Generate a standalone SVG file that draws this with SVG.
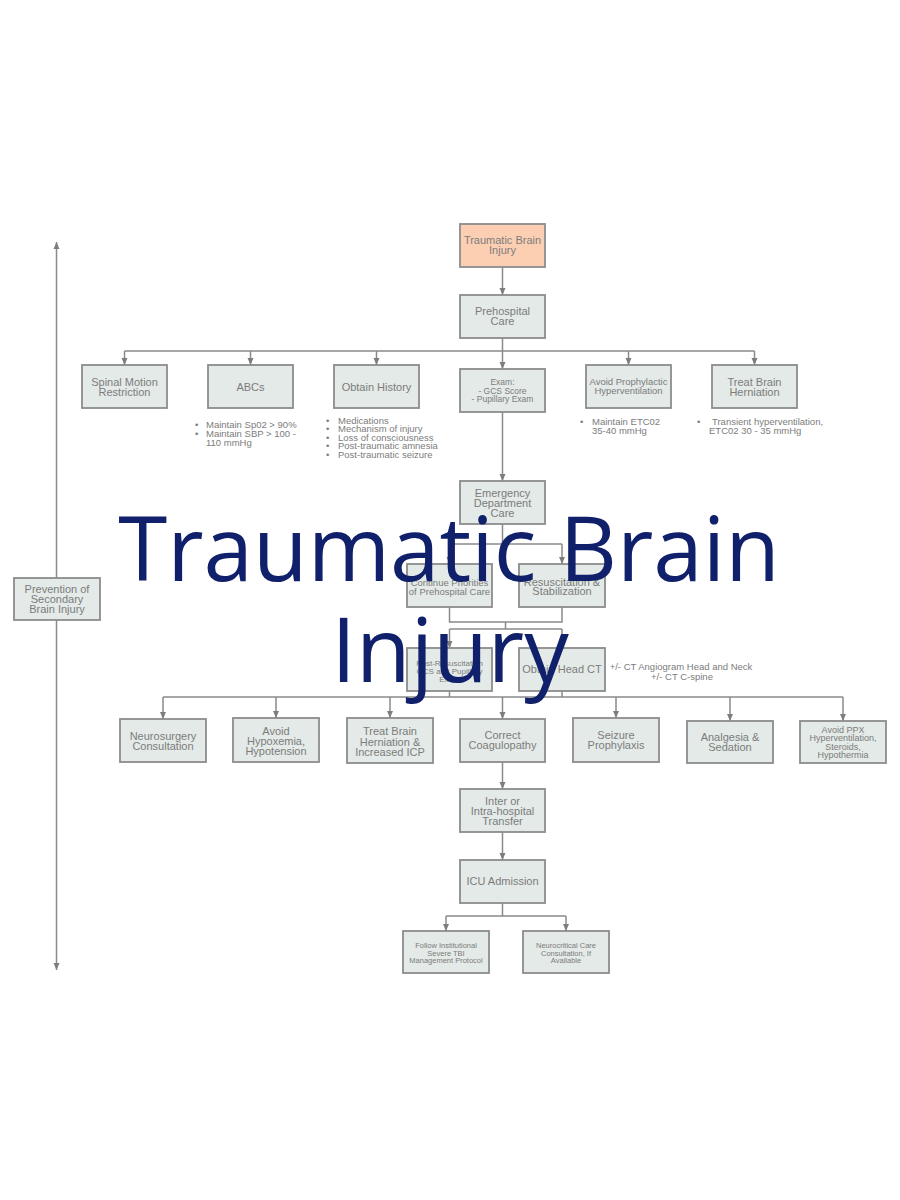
<svg xmlns="http://www.w3.org/2000/svg" width="900" height="1200" viewBox="0 0 900 1200">
<defs>
<marker id="ah" markerUnits="userSpaceOnUse" markerWidth="8" markerHeight="8" refX="7" refY="4" orient="auto">
<path d="M0,1 L7,4 L0,7 Z" fill="#7d7d7d"/>
</marker>
<marker id="ahs" markerUnits="userSpaceOnUse" markerWidth="8" markerHeight="8" refX="0" refY="4" orient="auto">
<path d="M7,1 L0,4 L7,7 Z" fill="#7d7d7d"/>
</marker>
<style>
.box{fill:#e3eae7;stroke:#8c8c8c;stroke-width:1.8}
.root{fill:#fccfb3;stroke:#8c8c8c;stroke-width:1.8}
.t{font-family:"Liberation Sans",Arial,sans-serif;font-size:11px;fill:#7c7c7c;text-anchor:middle}
.s{font-family:"Liberation Sans",Arial,sans-serif;font-size:9.5px;fill:#7c7c7c}
.c{fill:none;stroke:#8a8a8a;stroke-width:1.5}
.title{font-family:"Open Sans","Noto Sans",sans-serif;font-size:89px;fill:#10206b;text-anchor:middle}
</style>
</defs>
<rect width="900" height="1200" fill="#ffffff"/>

<g id="connectors">
<line class="c" x1="56.5" y1="242" x2="56.5" y2="970" marker-start="url(#ahs)" marker-end="url(#ah)"/>
<path class="c" d="M502.5,267 V295" marker-end="url(#ah)"/>
<path class="c" d="M502.5,338 V351 M124.5,351 H754.5"/>
<path class="c" d="M124.5,351 V365" marker-end="url(#ah)"/>
<path class="c" d="M250.5,351 V365" marker-end="url(#ah)"/>
<path class="c" d="M376.5,351 V365" marker-end="url(#ah)"/>
<path class="c" d="M502.5,351 V369" marker-end="url(#ah)"/>
<path class="c" d="M628.5,351 V365" marker-end="url(#ah)"/>
<path class="c" d="M754.5,351 V365" marker-end="url(#ah)"/>
<path class="c" d="M502.5,412 V481" marker-end="url(#ah)"/>
<path class="c" d="M502.5,524 V544 M449.5,544 H562"/>
<path class="c" d="M449.5,544 V564" marker-end="url(#ah)"/>
<path class="c" d="M562,544 V564" marker-end="url(#ah)"/>
<path class="c" d="M449.5,607 V622 H562 V607 M505.5,622 V629 M449.5,629 H562"/>
<path class="c" d="M449.5,629 V648" marker-end="url(#ah)"/>
<path class="c" d="M562,629 V648" marker-end="url(#ah)"/>
<path class="c" d="M449.5,691 V697 M562,691 V697 M163,697 H843"/>
<path class="c" d="M163,697 V719" marker-end="url(#ah)"/>
<path class="c" d="M276,697 V718" marker-end="url(#ah)"/>
<path class="c" d="M390,697 V718" marker-end="url(#ah)"/>
<path class="c" d="M502.5,697 V719" marker-end="url(#ah)"/>
<path class="c" d="M616,697 V718" marker-end="url(#ah)"/>
<path class="c" d="M730,697 V721" marker-end="url(#ah)"/>
<path class="c" d="M843,697 V721" marker-end="url(#ah)"/>
<path class="c" d="M502.5,762 V789" marker-end="url(#ah)"/>
<path class="c" d="M502.5,832 V860" marker-end="url(#ah)"/>
<path class="c" d="M502.5,903 V916 M446,916 H566"/>
<path class="c" d="M446,916 V931" marker-end="url(#ah)"/>
<path class="c" d="M566,916 V931" marker-end="url(#ah)"/>
</g>

<g id="n-tbi"><rect class="root" x="460" y="224" width="85" height="43"/><text class="t" x="502.5" y="244">Traumatic Brain</text><text class="t" x="502.5" y="254">Injury</text></g>
<g id="n-prehospital"><rect class="box" x="460" y="295" width="85" height="43"/><text class="t" x="502.5" y="315">Prehospital</text><text class="t" x="502.5" y="325">Care</text></g>

<g id="n-spinal"><rect class="box" x="82" y="365" width="85" height="43"/><text class="t" x="124.5" y="385.5">Spinal Motion</text><text class="t" x="124.5" y="395.5">Restriction</text></g>
<g id="n-abcs"><rect class="box" x="208" y="365" width="85" height="43"/><text class="t" x="250.5" y="390.5">ABCs</text>
<text class="s" x="195" y="427.5">•</text><text class="s" x="206" y="427.5">Maintain Sp02 &gt; 90%</text>
<text class="s" x="195" y="436.5">•</text><text class="s" x="206" y="436.5">Maintain SBP &gt; 100 -</text>
<text class="s" x="206" y="445.5">110 mmHg</text></g>
<g id="n-history"><rect class="box" x="334" y="365" width="85" height="43"/><text class="t" x="376.5" y="390.5">Obtain History</text>
<text class="s" x="326" y="423.5">•</text><text class="s" x="338" y="423.5">Medications</text>
<text class="s" x="326" y="432">•</text><text class="s" x="338" y="432">Mechanism of injury</text>
<text class="s" x="326" y="440.5">•</text><text class="s" x="338" y="440.5">Loss of consciousness</text>
<text class="s" x="326" y="449">•</text><text class="s" x="338" y="449">Post-traumatic amnesia</text>
<text class="s" x="326" y="458">•</text><text class="s" x="338" y="458">Post-traumatic seizure</text></g>
<g id="n-exam"><rect class="box" x="460" y="369" width="85" height="43"/><text class="t" x="502.5" y="385" style="font-size:8.5px">Exam:</text><text class="t" x="502.5" y="393.5" style="font-size:8.5px">- GCS Score</text><text class="t" x="502.5" y="402" style="font-size:8.5px">- Pupillary Exam</text></g>
<g id="n-avoid-hv"><rect class="box" x="586" y="365" width="85" height="43"/><text class="t" x="628.5" y="385" style="font-size:9.5px">Avoid Prophylactic</text><text class="t" x="628.5" y="394" style="font-size:9.5px">Hyperventilation</text>
<text class="s" x="580" y="425">•</text><text class="s" x="592" y="425">Maintain ETC02</text>
<text class="s" x="592" y="434">35-40 mmHg</text></g>
<g id="n-herniation"><rect class="box" x="712" y="365" width="85" height="43"/><text class="t" x="754.5" y="385.5">Treat Brain</text><text class="t" x="754.5" y="395.5">Herniation</text>
<text class="s" x="697" y="425">•</text><text class="s" x="712" y="425">Transient hyperventilation,</text>
<text class="s" x="709" y="434">ETC02 30 - 35 mmHg</text></g>

<g id="n-ed"><rect class="box" x="460" y="481" width="85" height="43"/><text class="t" x="502.5" y="497">Emergency</text><text class="t" x="502.5" y="507">Department</text><text class="t" x="502.5" y="517">Care</text></g>
<g id="n-continue"><rect class="box" x="407" y="564" width="85" height="43"/><text class="t" x="449.5" y="585.5" style="font-size:9.5px">Continue Priorities</text><text class="t" x="449.5" y="594.5" style="font-size:9.5px">of Prehospital Care</text></g>
<g id="n-resus"><rect class="box" x="519" y="564" width="86" height="43"/><text class="t" x="562" y="586">Resuscitation &amp;</text><text class="t" x="562" y="595">Stabilization</text></g>
<g id="n-postresus"><rect class="box" x="407" y="648" width="85" height="43"/><text class="t" x="449.5" y="666" style="font-size:8px">Post-Resuscitation</text><text class="t" x="449.5" y="674" style="font-size:8px">GCS and Pupillary</text><text class="t" x="449.5" y="682" style="font-size:8px">Exam</text></g>
<g id="n-ct"><rect class="box" x="519" y="648" width="86" height="43"/><text class="t" x="562" y="673">Obtain Head CT</text>
<text class="t" x="681" y="669.5" style="font-size:9.5px">+/- CT Angiogram Head and Neck</text><text class="t" x="682" y="679.5" style="font-size:9.5px">+/- CT C-spine</text></g>

<g id="n-neurosurg"><rect class="box" x="120" y="719" width="86" height="43"/><text class="t" x="163" y="740">Neurosurgery</text><text class="t" x="163" y="750">Consultation</text></g>
<g id="n-hypox"><rect class="box" x="233" y="718" width="86" height="44"/><text class="t" x="276" y="734.5">Avoid</text><text class="t" x="276" y="745">Hypoxemia,</text><text class="t" x="276" y="754.5">Hypotension</text></g>
<g id="n-icp"><rect class="box" x="347" y="718" width="86" height="45"/><text class="t" x="390" y="735">Treat Brain</text><text class="t" x="390" y="745.5">Herniation &amp;</text><text class="t" x="390" y="755.5">Increased ICP</text></g>
<g id="n-coag"><rect class="box" x="460" y="719" width="85" height="43"/><text class="t" x="502.5" y="739">Correct</text><text class="t" x="502.5" y="749">Coagulopathy</text></g>
<g id="n-seizure"><rect class="box" x="573" y="718" width="86" height="44"/><text class="t" x="616" y="739">Seizure</text><text class="t" x="616" y="749">Prophylaxis</text></g>
<g id="n-analgesia"><rect class="box" x="687" y="721" width="86" height="42"/><text class="t" x="730" y="741">Analgesia &amp;</text><text class="t" x="730" y="751">Sedation</text></g>
<g id="n-avoidppx"><rect class="box" x="800" y="721" width="86" height="42"/><text class="t" x="843" y="732.5" style="font-size:9px">Avoid PPX</text><text class="t" x="843" y="741" style="font-size:9px">Hyperventilation,</text><text class="t" x="843" y="750" style="font-size:9px">Steroids,</text><text class="t" x="843" y="758" style="font-size:9px">Hypothermia</text></g>

<g id="n-transfer"><rect class="box" x="460" y="789" width="85" height="43"/><text class="t" x="502.5" y="804.5">Inter or</text><text class="t" x="502.5" y="815">Intra-hospital</text><text class="t" x="502.5" y="825">Transfer</text></g>
<g id="n-icu"><rect class="box" x="460" y="860" width="85" height="43"/><text class="t" x="502.5" y="885">ICU Admission</text></g>
<g id="n-protocol"><rect class="box" x="403" y="931" width="86" height="42"/><text class="t" x="446" y="948" style="font-size:7.5px">Follow Institutional</text><text class="t" x="446" y="955.5" style="font-size:7.5px">Severe TBI</text><text class="t" x="446" y="963" style="font-size:7.5px">Management Protocol</text></g>
<g id="n-neurocrit"><rect class="box" x="523" y="931" width="86" height="42"/><text class="t" x="566" y="948" style="font-size:7.5px">Neurocritical Care</text><text class="t" x="566" y="955.5" style="font-size:7.5px">Consultation, If</text><text class="t" x="566" y="963" style="font-size:7.5px">Available</text></g>

<g id="n-prevention"><rect class="box" x="14" y="578" width="86" height="42"/><text class="t" x="57" y="593">Prevention of</text><text class="t" x="57" y="603">Secondary</text><text class="t" x="57" y="613">Brain Injury</text></g>

<g id="title"><text class="title" x="449" y="581">Traumatic Brain</text><text class="title" x="450" y="682">Injury</text></g>
</svg>
